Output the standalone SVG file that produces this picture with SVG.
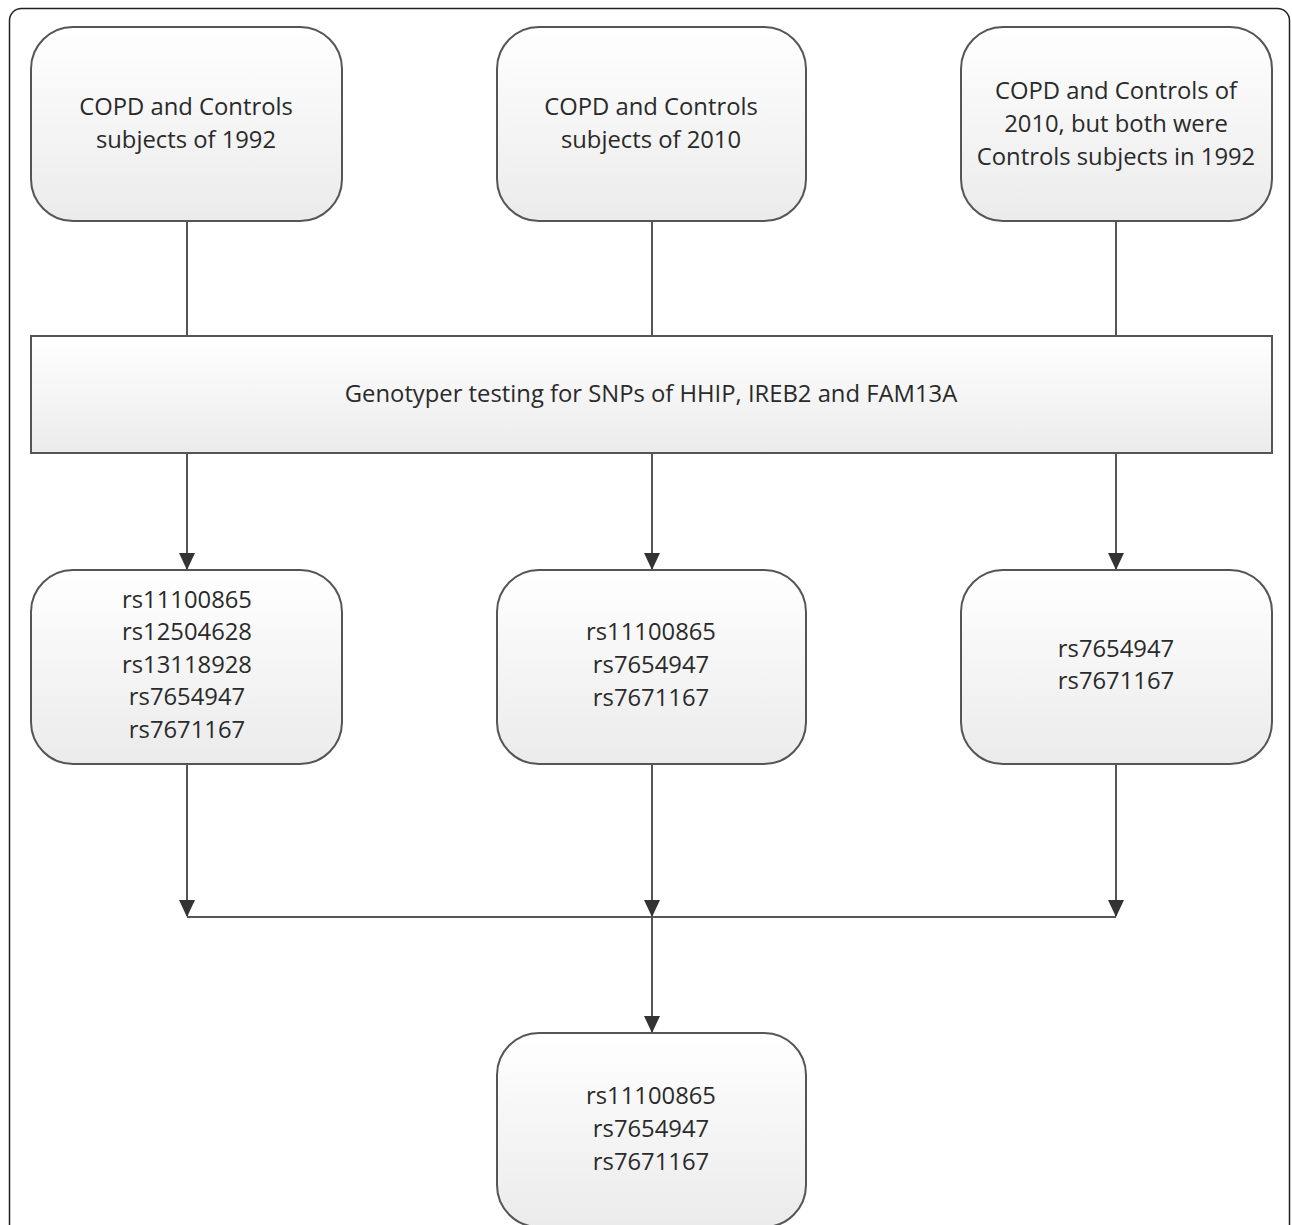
<svg xmlns="http://www.w3.org/2000/svg" width="1292" height="1225" viewBox="0 0 1292 1225">
<defs>
<linearGradient id="g" x1="0" y1="0" x2="0" y2="1">
<stop offset="0" stop-color="#ffffff"/>
<stop offset="1" stop-color="#ebebeb"/>
</linearGradient>
<marker id="arr" markerWidth="18" markerHeight="18" refX="16" refY="9" orient="auto" markerUnits="userSpaceOnUse" viewBox="0 0 18 18">
<path d="M0,1 L17,9 L0,17 Z" fill="#333"/>
</marker>
</defs>
<style>
.box{fill:url(#g);stroke:#555;stroke-width:2}
.t{font-family:"Open Sans","Liberation Sans",sans-serif;font-size:23.8px;fill:#2a2a2a;text-anchor:middle}
.c{fill:none;stroke:#555;stroke-width:2}
</style>
<rect width="1292" height="1225" fill="#fff"/>
<rect x="9.5" y="8.5" width="1280" height="1240" rx="12" fill="none" stroke="#222" stroke-width="1.5"/>
<g id="connectors">
<line class="c" x1="187" y1="221" x2="187" y2="336"/>
<line class="c" x1="652" y1="221" x2="652" y2="336"/>
<line class="c" x1="1116" y1="221" x2="1116" y2="336"/>
<line class="c" x1="187" y1="453" x2="187" y2="569" marker-end="url(#arr)"/>
<line class="c" x1="652" y1="453" x2="652" y2="569" marker-end="url(#arr)"/>
<line class="c" x1="1116" y1="453" x2="1116" y2="569" marker-end="url(#arr)"/>
<line class="c" x1="187" y1="764" x2="187" y2="916" marker-end="url(#arr)"/>
<line class="c" x1="652" y1="764" x2="652" y2="916" marker-end="url(#arr)"/>
<line class="c" x1="1116" y1="764" x2="1116" y2="916" marker-end="url(#arr)"/>
<line class="c" x1="187" y1="917" x2="1116" y2="917"/>
<line class="c" x1="652" y1="917" x2="652" y2="1032" marker-end="url(#arr)"/>
</g>
<g id="n1">
<rect class="box" x="31" y="27" width="311" height="194" rx="42"/>
<text class="t" x="186" y="115">COPD and Controls</text>
<text class="t" x="186" y="148">subjects of 1992</text>
</g>
<g id="n2">
<rect class="box" x="497" y="27" width="309" height="194" rx="42"/>
<text class="t" x="651" y="115">COPD and Controls</text>
<text class="t" x="651" y="148">subjects of 2010</text>
</g>
<g id="n3">
<rect class="box" x="961" y="27" width="311" height="194" rx="42"/>
<text class="t" x="1116" y="99">COPD and Controls of</text>
<text class="t" x="1116" y="132">2010, but both were</text>
<text class="t" x="1116" y="165">Controls subjects in 1992</text>
</g>
<g id="n4">
<rect class="box" x="31" y="336" width="1241" height="117"/>
<text class="t" x="651" y="402">Genotyper testing for SNPs of HHIP, IREB2 and FAM13A</text>
</g>
<g id="n5">
<rect class="box" x="31" y="570" width="311" height="194" rx="42"/>
<text class="t" x="187" y="608">rs11100865</text>
<text class="t" x="187" y="640">rs12504628</text>
<text class="t" x="187" y="673">rs13118928</text>
<text class="t" x="187" y="705">rs7654947</text>
<text class="t" x="187" y="738">rs7671167</text>
</g>
<g id="n6">
<rect class="box" x="497" y="570" width="309" height="194" rx="42"/>
<text class="t" x="651" y="640">rs11100865</text>
<text class="t" x="651" y="673">rs7654947</text>
<text class="t" x="651" y="706">rs7671167</text>
</g>
<g id="n7">
<rect class="box" x="961" y="570" width="311" height="194" rx="42"/>
<text class="t" x="1116" y="657">rs7654947</text>
<text class="t" x="1116" y="689">rs7671167</text>
</g>
<g id="n8">
<rect class="box" x="497" y="1033" width="309" height="194" rx="42"/>
<text class="t" x="651" y="1104">rs11100865</text>
<text class="t" x="651" y="1137">rs7654947</text>
<text class="t" x="651" y="1170">rs7671167</text>
</g>
</svg>
